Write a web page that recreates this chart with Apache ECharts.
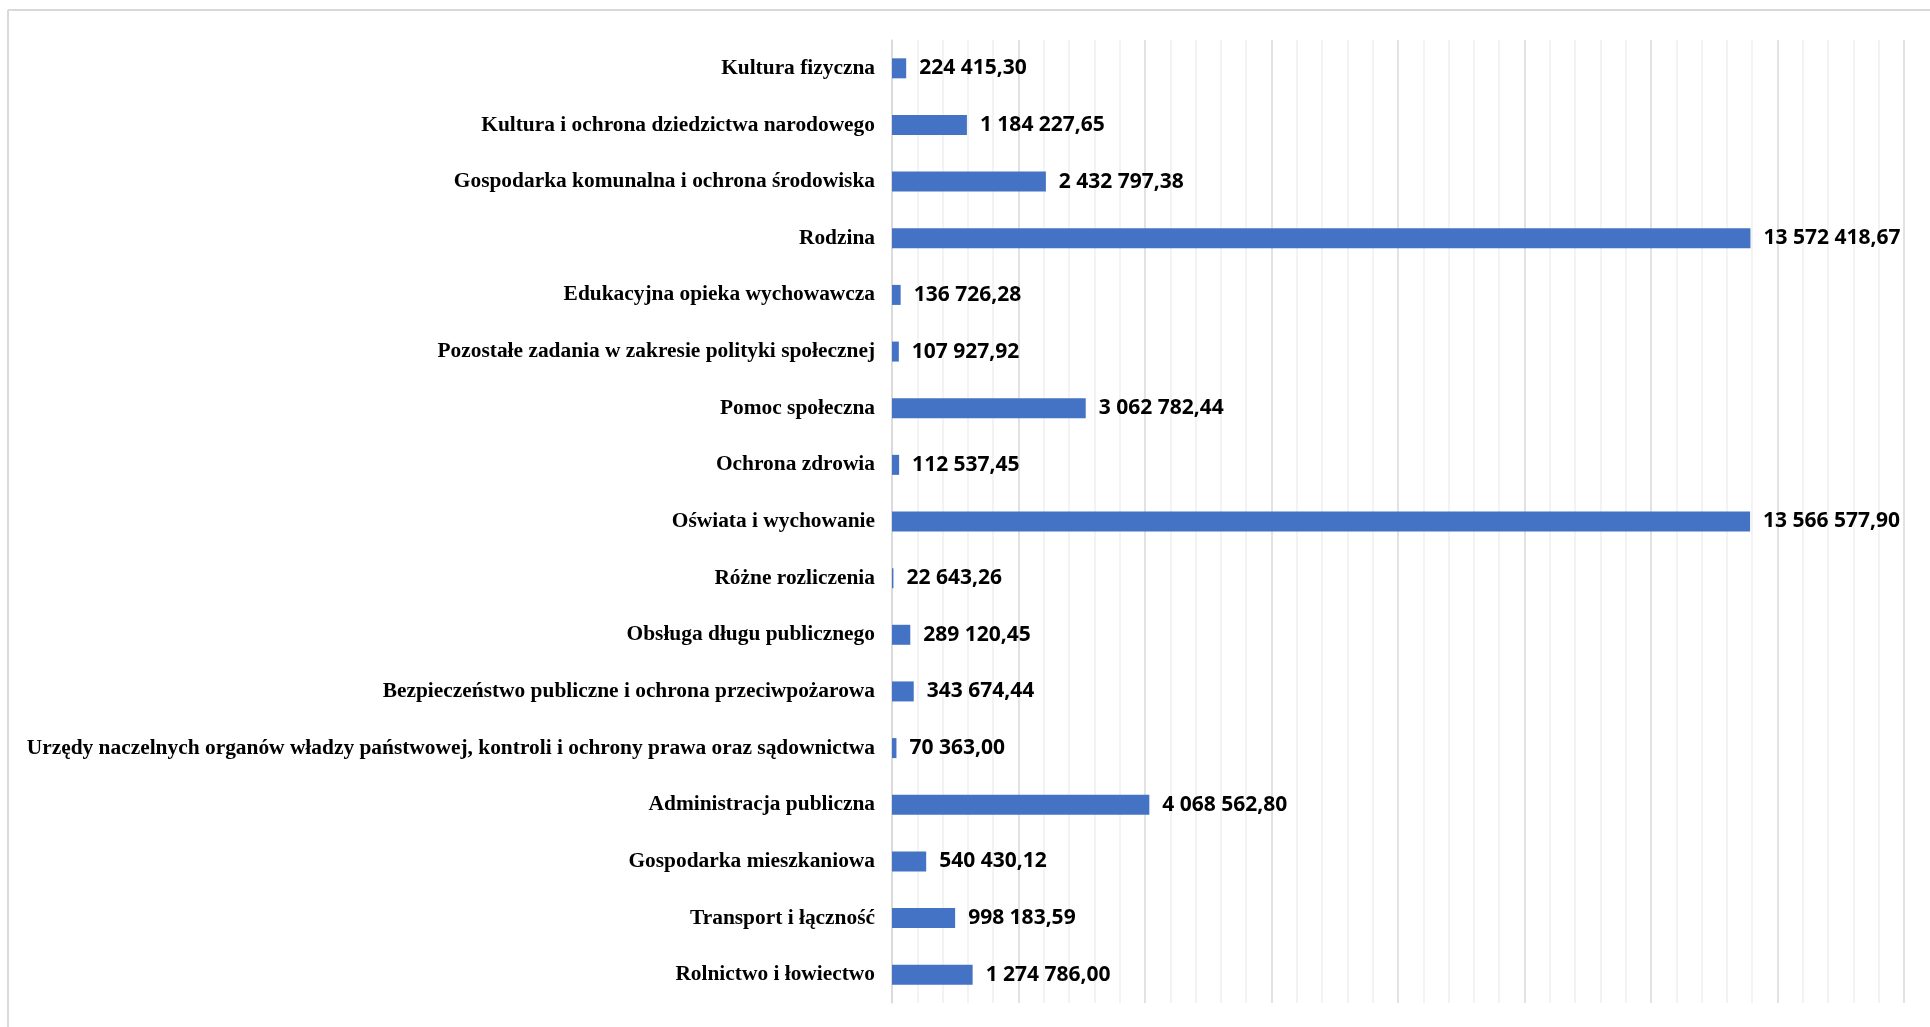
<!DOCTYPE html>
<html>
<head>
<meta charset="utf-8">
<script src="https://cdn.jsdelivr.net/npm/echarts@6/dist/echarts.min.js"></script>
<style>
html,body{margin:0;padding:0;background:#fff;}
#chart{width:1930px;height:1027px;}
</style>
</head>
<body>
<div id="chart"></div>
<script>
const categories = [
  "Kultura fizyczna",
  "Kultura i ochrona dziedzictwa narodowego",
  "Gospodarka komunalna i ochrona środowiska",
  "Rodzina",
  "Edukacyjna opieka wychowawcza",
  "Pozostałe zadania w zakresie polityki społecznej",
  "Pomoc społeczna",
  "Ochrona zdrowia",
  "Oświata i wychowanie",
  "Różne rozliczenia",
  "Obsługa długu publicznego",
  "Bezpieczeństwo publiczne i ochrona przeciwpożarowa",
  "Urzędy naczelnych organów władzy państwowej, kontroli i ochrony prawa oraz sądownictwa",
  "Administracja publiczna",
  "Gospodarka mieszkaniowa",
  "Transport i łączność",
  "Rolnictwo i łowiectwo"
];
const values = [
  224415.30, 1184227.65, 2432797.38, 13572418.67, 136726.28, 107927.92,
  3062782.44, 112537.45, 13566577.90, 22643.26, 289120.45, 343674.44,
  70363.00, 4068562.80, 540430.12, 998183.59, 1274786.00
];
const axisMin = 0;
const axisMax = 16000000;
const axisInterval = 2000000;

function fmt(v) {
  const parts = v.toFixed(2).split('.');
  const intPart = parts[0].replace(/\B(?=(\d{3})+(?!\d))/g, ' ');
  return intPart + ',' + parts[1];
}

const chart = echarts.init(document.getElementById('chart'));
chart.setOption({
  backgroundColor: '#ffffff',
  animation: false,
  graphic: [
    { type: 'line', shape: { x1: 8, y1: 10, x2: 1930, y2: 10 }, style: { stroke: '#d9d9d9', lineWidth: 2 } },
    { type: 'line', shape: { x1: 8, y1: 10, x2: 8, y2: 1027 }, style: { stroke: '#d9d9d9', lineWidth: 2 } }
  ],
  grid: { left: 892, right: 26, top: 40, bottom: 24, containLabel: false },
  xAxis: {
    type: 'value',
    min: axisMin,
    max: axisMax,
    interval: axisInterval,
    axisLabel: { show: false },
    axisLine: { show: false },
    axisTick: { show: false },
    splitLine: { show: true, lineStyle: { color: '#d9d9d9', width: 1.5 } },
    minorTick: { show: false, splitNumber: 5 },
    minorSplitLine: { show: true, lineStyle: { color: '#f0f0f0', width: 1.5 } }
  },
  yAxis: {
    type: 'category',
    data: categories,
    inverse: true,
    axisTick: { show: false },
    axisLine: { show: true, lineStyle: { color: '#d9d9d9', width: 1.5 } },
    axisLabel: {
      margin: 17,
      color: '#000',
      fontFamily: 'Liberation Serif',
      fontWeight: 'bold',
      fontSize: 21.4
    }
  },
  series: [{
    type: 'bar',
    data: values,
    barWidth: 20,
    itemStyle: { color: '#4472c4' },
    label: {
      show: true,
      position: 'right',
      distance: 13,
      color: '#000',
      fontFamily: 'Open Sans',
      fontWeight: 'bold',
      fontSize: 21,
      formatter: p => fmt(p.value)
    }
  }]
});
</script>
</body>
</html>
